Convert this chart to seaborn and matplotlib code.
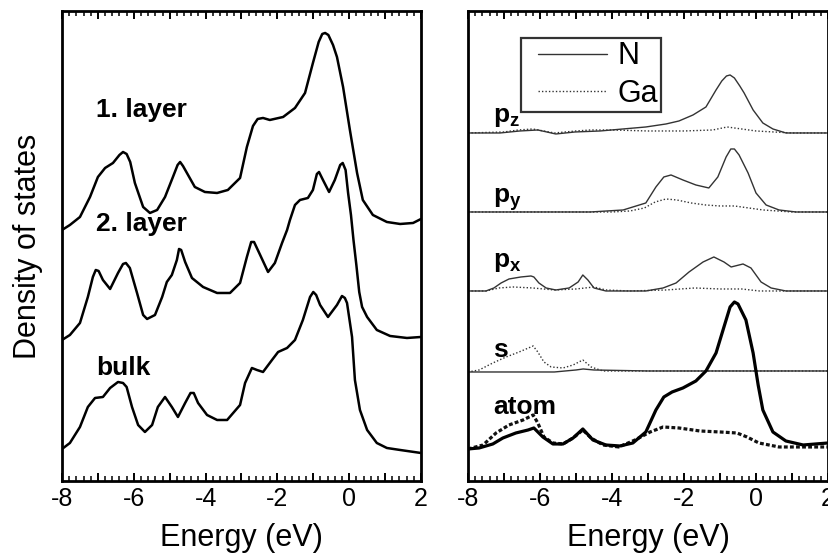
import numpy as np
import pandas as pd
import matplotlib
matplotlib.use("Agg")
import matplotlib.pyplot as plt
import seaborn as sns
from matplotlib.lines import Line2D
from matplotlib.legend_handler import HandlerLine2D
from matplotlib.ticker import MultipleLocator, FuncFormatter

# ---- left panel: total DOS per layer (energy in eV, DOS in arb. units) ----
layer1_energy = [-8.0, -7.78, -7.5, -7.22, -7.0, -6.8, -6.58, -6.4, -6.3, -6.2, -6.1, -5.97, -5.74, -5.55,
                 -5.35, -5.13, -4.91, -4.78, -4.71, -4.63, -4.52, -4.3, -4.02, -3.68, -3.38, -3.04, -2.85,
                 -2.68, -2.55, -2.4, -2.21, -1.84, -1.51, -1.23, -1.01, -0.85, -0.75, -0.67, -0.58, -0.45,
                 -0.34, -0.17, 0.02, 0.22, 0.38, 0.66, 1.05, 1.42, 1.78, 2.0]
layer1_dos = [0, 5, 13, 33, 53, 62, 67, 75, 78, 76, 68, 47, 23, 17, 20, 33, 53, 65, 68, 64, 57, 43, 38, 37,
              40, 52, 83, 104, 111, 112, 110, 113, 122, 137, 167, 188, 196, 197, 195, 185, 173, 143, 100,
              57, 30, 15, 8, 6, 7, 11]

layer2_energy = [-8.0, -7.78, -7.5, -7.28, -7.14, -7.06, -6.98, -6.86, -6.66, -6.44, -6.3, -6.22, -6.11,
                 -5.91, -5.74, -5.63, -5.41, -5.21, -5.08, -4.94, -4.8, -4.74, -4.68, -4.57, -4.38, -4.07,
                 -3.68, -3.32, -3.04, -2.85, -2.73, -2.65, -2.48, -2.26, -2.07, -1.87, -1.73, -1.65, -1.51,
                 -1.37, -1.15, -1.01, -0.9, -0.84, -0.73, -0.56, -0.4, -0.25, -0.18, -0.1, -0.03, 0.05,
                 0.12, 0.2, 0.28, 0.36, 0.5, 0.77, 1.14, 1.61, 2.0]
layer2_dos = [0, 5, 17, 43, 63, 70, 69, 60, 51, 67, 76, 77, 72, 47, 25, 21, 25, 43, 58, 65, 80, 91, 90, 78,
              62, 53, 47, 47, 57, 83, 98, 98, 85, 68, 77, 97, 110, 120, 135, 140, 142, 150, 166, 168,
              160, 148, 160, 175, 177, 170, 147, 125, 100, 75, 48, 33, 23, 10, 4, 2, 3]

bulk_energy = [-8.0, -7.78, -7.5, -7.28, -7.08, -6.86, -6.66, -6.44, -6.3, -6.2, -6.05, -5.88, -5.69,
               -5.49, -5.33, -5.13, -4.94, -4.77, -4.57, -4.42, -4.33, -4.21, -3.96, -3.68, -3.4, -3.04,
               -2.9, -2.71, -2.57, -2.4, -2.15, -1.98, -1.73, -1.51, -1.29, -1.09, -1.0, -0.92, -0.81,
               -0.59, -0.34, -0.2, -0.12, -0.06, 0.08, 0.16, 0.3, 0.5, 0.77, 1.05, 1.42, 2.0]
bulk_dos = [0, 6, 22, 42, 51, 52, 61, 67, 66, 62, 42, 24, 17, 24, 42, 52, 42, 32, 46, 56, 56, 46, 34, 29,
            29, 44, 66, 81, 79, 77, 89, 97, 101, 109, 129, 152, 157, 154, 144, 132, 144, 153, 151, 146,
            112, 69, 39, 19, 6, 1, -1, -4]

left_labels = ["1. layer", "2. layer", "bulk"]
left_offsets = [248, 138, 29]

# ---- right panel: orbital resolved DOS of the 1. layer, N and Ga ----
pz_n_energy = [-8.0, -7.11, -6.56, -6.06, -5.56, -5.03, -4.33, -3.06, -2.5, -2.14, -1.75, -1.39, -1.11,
               -0.95, -0.82, -0.72, -0.6, -0.45, -0.33, -0.08, 0.19, 0.47, 0.83, 2.0]
pz_n = [0, 0, 2, 3, -1, 1, 2, 6, 9, 12, 18, 26, 43, 52, 57, 58, 55, 47, 40, 23, 10, 4, 0, 0]
pz_ga_energy = [-8.0, -7.0, -6.6, -6.2, -5.6, -5.0, -4.6, -4.0, -3.0, -2.0, -1.2, -0.8, -0.4, 0.0, 0.5,
                1.0, 2.0]
pz_ga = [0, 1, 3, 4, 0, 2, 3, 3, 2, 2, 3, 6, 4, 2, 1, 0, 0]

py_n_energy = [-8.0, -4.6, -3.69, -3.06, -2.78, -2.56, -2.36, -2.03, -1.67, -1.31, -1.06, -0.83, -0.7,
               -0.6, -0.47, -0.22, 0.0, 0.28, 0.64, 1.11, 2.0]
py_n = [0, 0, 2, 9, 25, 35, 37, 32, 27, 24, 35, 55, 63, 63, 57, 39, 19, 7, 2, 0, 0]
py_ga_energy = [-8.0, -4.0, -3.5, -3.1, -2.8, -2.5, -2.2, -1.8, -1.4, -1.0, -0.6, -0.2, 0.2, 0.6, 1.0, 2.0]
py_ga = [0, 0, 1, 4, 10, 13, 12, 9, 7, 6, 6, 4, 2, 1, 0, 0]

px_n_energy = [-8.0, -7.5, -7.28, -7.08, -6.86, -6.53, -6.25, -6.17, -6.03, -5.83, -5.56, -5.19, -4.94,
               -4.81, -4.67, -4.5, -4.17, -3.06, -2.58, -2.22, -1.86, -1.47, -1.17, -0.89, -0.69, -0.36,
               -0.14, 0.14, 0.42, 0.83, 2.0]
px_n = [0, 0, 3, 8, 12, 14, 15, 14, 8, 3, 1, 3, 9, 16, 11, 3, 0, 0, 3, 8, 19, 29, 34, 29, 24, 27, 23, 9,
        3, 0, 0]
px_ga_energy = [-8.0, -7.5, -7.14, -6.75, -6.2, -5.6, -5.0, -4.5, -4.17, -3.5, -2.5, -1.7, -1.0, -0.4,
                0.1, 2.0]
px_ga = [0, 0, 3, 4, 3, 1, 2, 4, 1, 0, 1, 3, 2, 2, 0, 0]

s_n_energy = [-8.0, -5.6, -5.0, -4.8, -4.5, -3.0, 0.0, 2.0]
s_n = [0, 0, 2, 3, 2, 1, 1, 1]
s_ga_energy = [-8.0, -7.69, -7.31, -6.94, -6.58, -6.19, -6.06, -5.89, -5.69, -5.36, -5.08, -4.81, -4.58,
               -4.25, -3.06, 2.0]
s_ga = [0, 2, 9, 15, 20, 26, 20, 10, 5, 4, 7, 12, 5, 1, 1, 1]

atom_n_energy = [-8.0, -7.69, -7.31, -7.03, -6.67, -6.33, -6.17, -5.92, -5.64, -5.36, -5.08, -4.81, -4.53,
                 -4.17, -3.78, -3.42, -3.06, -2.78, -2.56, -2.33, -2.03, -1.67, -1.39, -1.11, -0.89,
                 -0.72, -0.6, -0.5, -0.28, -0.08, 0.06, 0.19, 0.47, 0.83, 1.31, 2.0]
atom_n = [0, 1, 5, 11, 16, 19, 21, 12, 5, 5, 11, 20, 9, 4, 3, 6, 17, 39, 52, 57, 61, 68, 78, 96, 122, 142,
          147, 145, 129, 96, 64, 39, 17, 8, 4, 6]
atom_ga_energy = [-8.0, -7.58, -7.22, -6.86, -6.47, -6.19, -6.06, -5.89, -5.64, -5.36, -5.08, -4.81, -4.58,
                  -4.25, -3.81, -3.36, -2.94, -2.58, -2.14, -1.56, -1.0, -0.53, -0.25, 0.08, 0.64, 2.0]
atom_ga = [0, 4, 16, 24, 29, 34, 26, 12, 6, 5, 11, 19, 11, 4, 2, 9, 17, 22, 21, 18, 17, 16, 12, 6, 2, 2]

right_labels = [r"$\mathbf{p_z}$", r"$\mathbf{p_y}$", r"$\mathbf{p_x}$", "s", "atom"]
right_offsets = [345, 266, 187, 106, 29]
label_y_left = [361, 247, 103]
label_y_right = [356, 275, 211, 121, 64]
legend_labels = ["N", "Ga"]

sns.set_theme(style="ticks")
plt.rcParams["font.family"] = ["Liberation Sans", "DejaVu Sans"]
plt.rcParams["mathtext.fontset"] = "custom"
plt.rcParams["mathtext.bf"] = "Liberation Sans:bold"
plt.rcParams["mathtext.rm"] = "Liberation Sans"
plt.rcParams["axes.unicode_minus"] = False
plt.rcParams["text.color"] = "black"
plt.rcParams["axes.labelcolor"] = "black"


def draw_curve(ax, energy, dos, offset, **kw):
    df = pd.DataFrame({"energy": energy, "dos": np.asarray(dos, dtype=float) + offset})
    sns.lineplot(data=df, x="energy", y="dos", ax=ax, estimator=None, sort=False, **kw)


def style_axis(ax):
    ax.set_xlim(-8, 2)
    ax.set_ylim(-3, 467)
    ax.set_yticks([])
    ax.xaxis.set_major_locator(MultipleLocator(1))
    ax.xaxis.set_minor_locator(MultipleLocator(0.2))
    ax.xaxis.set_major_formatter(FuncFormatter(lambda v, p: f"{v:.0f}" if round(v) % 2 == 0 else ""))
    ax.tick_params(axis="x", which="both", direction="in", top=True, bottom=True, color="black")
    ax.tick_params(axis="x", which="major", length=6, width=1.4, labelsize=18, pad=4, labelcolor="black")
    ax.tick_params(axis="x", which="minor", length=3.5, width=1.1)
    for sp in ax.spines.values():
        sp.set_linewidth(2)
        sp.set_color("black")
    ax.set_xlabel("Energy (eV)", fontsize=22, labelpad=9, color="black")
    ax.set_ylabel("")


fig = plt.figure(figsize=(8.29, 5.6), dpi=100)
ax_l = fig.add_axes([0.0748, 0.1411, 0.4330, 0.8393])
ax_r = fig.add_axes([0.5645, 0.1411, 0.4343, 0.8393])

# left panel
left_curves = [(layer1_energy, layer1_dos), (layer2_energy, layer2_dos), (bulk_energy, bulk_dos)]
for (e, d), off, lab, ly in zip(left_curves, left_offsets, left_labels, label_y_left):
    draw_curve(ax_l, e, d, off, color="black", linewidth=1.8)
    ax_l.text(-7.04, ly, lab, fontsize=19, fontweight="bold", va="baseline", ha="left", color="black")
style_axis(ax_l)
ax_l.set_ylabel("Density of states", fontsize=22, labelpad=14, color="black")

# right panel
n_curves = [(pz_n_energy, pz_n), (py_n_energy, py_n), (px_n_energy, px_n), (s_n_energy, s_n)]
ga_curves = [(pz_ga_energy, pz_ga), (py_ga_energy, py_ga), (px_ga_energy, px_ga), (s_ga_energy, s_ga)]
for (en, dn), (eg, dg), off in zip(n_curves, ga_curves, right_offsets[:4]):
    draw_curve(ax_r, eg, dg, off, color="#333333", linewidth=1.0, linestyle=(0, (1, 1.5)))
    draw_curve(ax_r, en, dn, off, color="#333333", linewidth=1.0)
draw_curve(ax_r, atom_ga_energy, atom_ga, right_offsets[4], color="#111111", linewidth=2.3,
           linestyle=(0, (1.2, 0.7)))
draw_curve(ax_r, atom_n_energy, atom_n, right_offsets[4], color="black", linewidth=2.3)
for lab, ly in zip(right_labels, label_y_right):
    ax_r.text(-7.31, ly, lab, fontsize=19, fontweight="bold", va="baseline", ha="left", color="black")
style_axis(ax_r)

handles = [Line2D([], [], color="#333333", linewidth=1.0),
           Line2D([], [], color="#333333", linewidth=1.0, linestyle=(0, (1, 1.5)))]
leg = ax_r.legend(handles, legend_labels, loc="upper left", bbox_to_anchor=(0.147, 0.942),
                  borderaxespad=0, frameon=True, fancybox=False, fontsize=22, handlelength=2.72,
                  handletextpad=0.35, labelspacing=0.25, borderpad=0.1,
                  handler_map={Line2D: HandlerLine2D(xpad=0.46)})
leg.get_frame().set_edgecolor("black")
leg.get_frame().set_linewidth(1.6)
for t in leg.get_texts():
    t.set_color("black")

fig.savefig("out.png", dpi=100)
